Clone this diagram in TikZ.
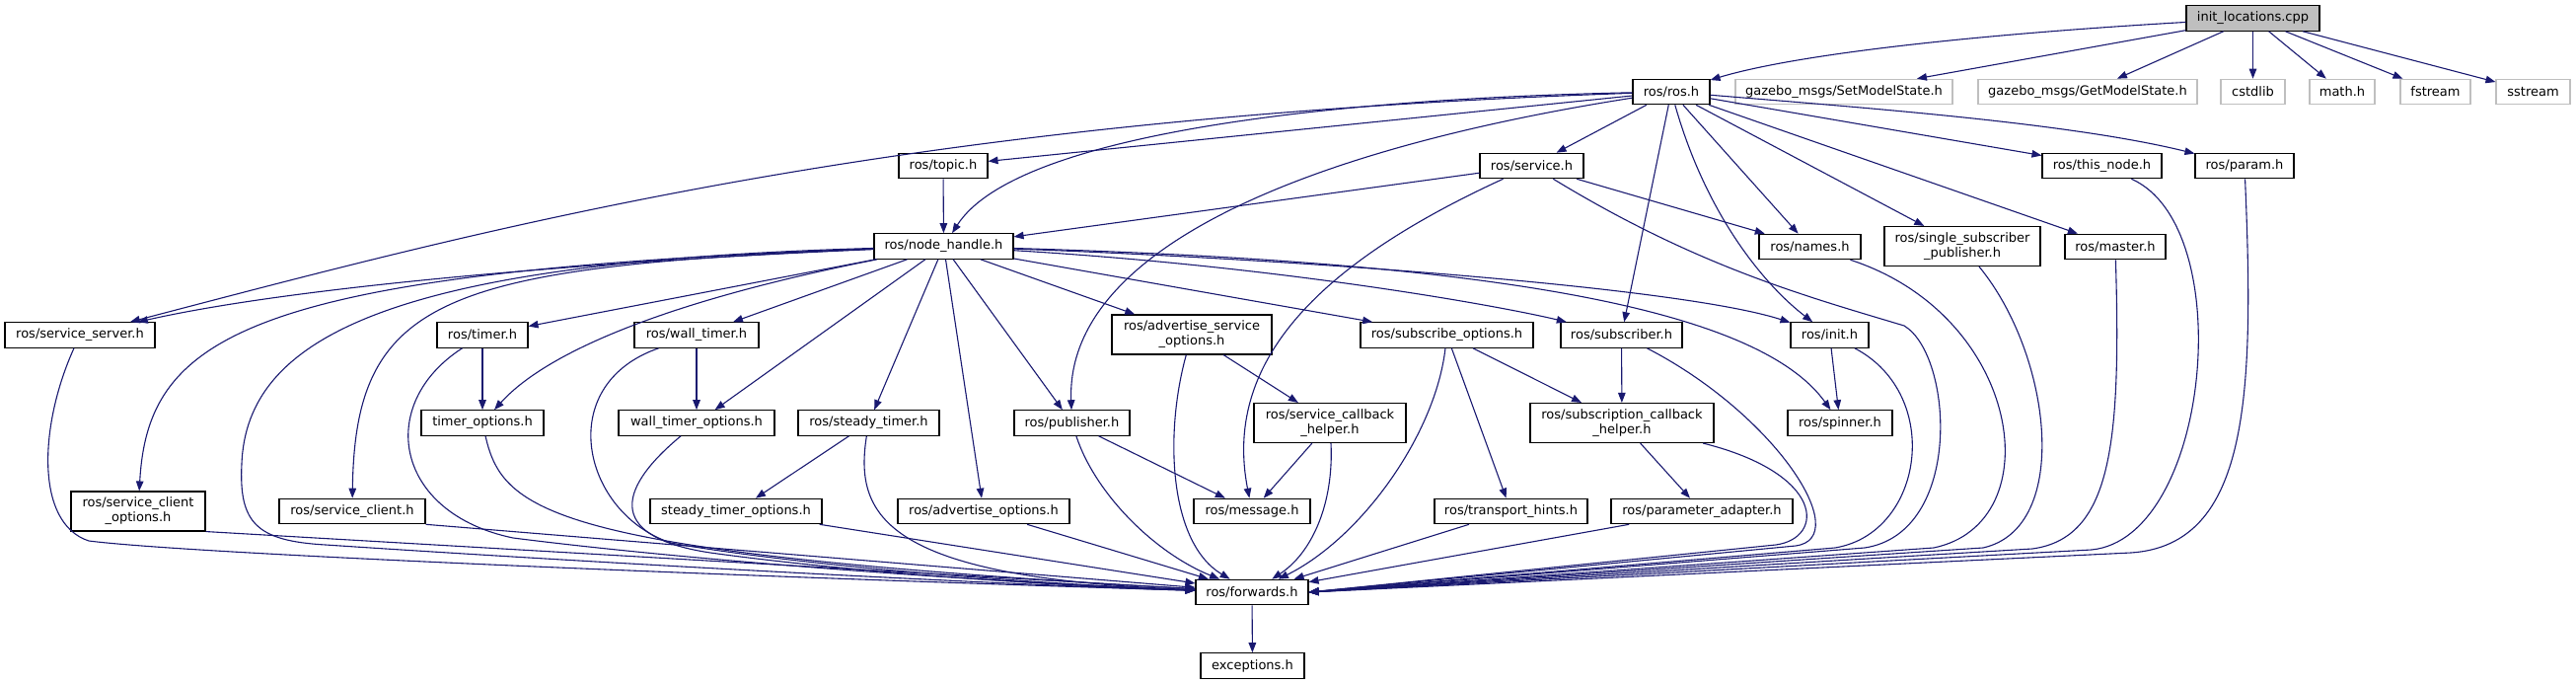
\documentclass[tikz,border=0pt]{standalone}
\usepackage{fontspec}
\setmainfont{DejaVu Sans}
\usetikzlibrary{arrows.meta}
\definecolor{edgeblue}{RGB}{25,25,112}
\definecolor{grey75}{RGB}{191,191,191}
\tikzset{
	hdr/.style={draw=black, fill=white, line width=1.1pt, inner sep=0pt, minimum height=25.5pt, font=\fontsize{13}{15}\selectfont},
	hdrtwo/.style={hdr, align=center, minimum height=40pt},
	sysfile/.style={hdr, draw=grey75},
	rootfile/.style={hdr, fill=grey75},
	dep/.style={edgeblue, line width=1.1pt, -{Triangle[length=10pt,width=7.5pt]}}
}
\begin{document}
\begin{tikzpicture}[x=1pt,y=-1pt]

	% frame
	\useasboundingbox (0,0) rectangle (2611,693);

	% source file
	\node[rootfile, minimum width=135pt] (init) at (2283.5,18.5) {init\_locations.cpp};

	% row 1
	\node[hdr, minimum width=78pt] (rosh) at (1694,93) {ros/ros.h};
	\node[sysfile, minimum width=220pt] (setms) at (1869,93) {gazebo\_msgs/SetModelState.h};
	\node[sysfile, minimum width=222pt] (getms) at (2116,93) {gazebo\_msgs/GetModelState.h};
	\node[sysfile, minimum width=65pt] (cstdlib) at (2283.5,93) {cstdlib};
	\node[sysfile, minimum width=66pt] (mathh) at (2374,93) {math.h};
	\node[sysfile, minimum width=71pt] (fstream) at (2468.5,93) {fstream};
	\node[sysfile, minimum width=75pt] (sstream) at (2567.5,93) {sstream};

	% row 2
	\node[hdr, minimum width=90pt] (topic) at (956,168) {ros/topic.h};
	\node[hdr, minimum width=105pt] (service) at (1552.5,168) {ros/service.h};
	\node[hdr, minimum width=121pt] (thisnode) at (2130.5,168) {ros/this\_node.h};
	\node[hdr, minimum width=100pt] (param) at (2275,168) {ros/param.h};

	% row 3
	\node[hdr, minimum width=141pt] (nodehandle) at (956.5,249.5) {ros/node\_handle.h};
	\node[hdr, minimum width=103pt] (names) at (1834.5,250) {ros/names.h};
	\node[hdrtwo, minimum width=158pt] (singlesub) at (1989,249.5) {ros/single\_subscriber\\\_publisher.h};
	\node[hdr, minimum width=102pt] (master) at (2144,250) {ros/master.h};

	% row 4
	\node[hdr, minimum width=152pt] (srvserver) at (81,339.5) {ros/service\_server.h};
	\node[hdr, minimum width=92pt] (timer) at (489,339.5) {ros/timer.h};
	\node[hdr, minimum width=126pt] (walltimer) at (706,339.5) {ros/wall\_timer.h};
	\node[hdrtwo, minimum width=162pt] (advsrvopt) at (1208,339) {ros/advertise\_service\\\_options.h};
	\node[hdr, minimum width=175pt] (subopt) at (1466.5,339.5) {ros/subscribe\_options.h};
	\node[hdr, minimum width=123pt] (subscriber) at (1643.5,339.5) {ros/subscriber.h};
	\node[hdr, minimum width=79pt] (rosinit) at (1854.5,339.5) {ros/init.h};

	% row 5
	\node[hdr, minimum width=124pt] (timeropt) at (489,428.5) {timer\_options.h};
	\node[hdr, minimum width=158pt] (walltimeropt) at (706,428.5) {wall\_timer\_options.h};
	\node[hdr, minimum width=143pt] (steadytimer) at (880.5,428.5) {ros/steady\_timer.h};
	\node[hdr, minimum width=117pt] (publisher) at (1086.5,428.5) {ros/publisher.h};
	\node[hdrtwo, minimum width=154pt] (srvcb) at (1348,428.5) {ros/service\_callback\\\_helper.h};
	\node[hdrtwo, minimum width=186pt] (subcb) at (1644,428.5) {ros/subscription\_callback\\\_helper.h};
	\node[hdr, minimum width=106pt] (spinner) at (1865,428.5) {ros/spinner.h};

	% row 6
	\node[hdrtwo, minimum width=136pt] (srvclientopt) at (140,518) {ros/service\_client\\\_options.h};
	\node[hdr, minimum width=148pt] (srvclient) at (357,518) {ros/service\_client.h};
	\node[hdr, minimum width=174pt] (steadytimeropt) at (746,518) {steady\_timer\_options.h};
	\node[hdr, minimum width=174pt] (advopt) at (997,518) {ros/advertise\_options.h};
	\node[hdr, minimum width=118pt] (message) at (1269,518) {ros/message.h};
	\node[hdr, minimum width=155pt] (transport) at (1531.5,518) {ros/transport\_hints.h};
	\node[hdr, minimum width=184pt] (paramadapt) at (1725,518) {ros/parameter\_adapter.h};

	% bottom
	\node[hdr, minimum width=114pt] (forwards) at (1269,600) {ros/forwards.h};
	\node[hdr, minimum width=105pt] (exceptions) at (1269.5,674.5) {exceptions.h};

	% from init_locations.cpp
	\draw[dep] (init) .. controls (2000,35) and (1820,55) .. (rosh);
	\draw[dep] (init) -- (setms);
	\draw[dep] (init) -- (getms);
	\draw[dep] (init) -- (cstdlib);
	\draw[dep] (init) -- (mathh);
	\draw[dep] (init) -- (fstream);
	\draw[dep] (init) -- (sstream);

	% from ros/ros.h
	\draw[dep] (rosh) -- (topic);
	\draw[dep] (rosh) .. controls (1350,100) and (1030,135) .. (nodehandle);
	\draw[dep] (rosh) .. controls (900,120) and (500,230) .. (srvserver);
	\draw[dep] (rosh) -- (service);
	\draw[dep] (rosh) .. controls (1330,150) and (1080,250) .. (publisher);
	\draw[dep] (rosh) -- (names);
	\draw[dep] (rosh) -- (singlesub);
	\draw[dep] (rosh) -- (master);
	\draw[dep] (rosh) -- (thisnode);
	\draw[dep] (rosh) .. controls (1900,110) and (2100,125) .. (param);
	\draw[dep] (rosh) .. controls (1730,220) and (1790,290) .. (rosinit);
	\draw[dep] (rosh) -- (subscriber);

	% from ros/topic.h, ros/service.h
	\draw[dep] (topic) -- (nodehandle);
	\draw[dep] (service) -- (nodehandle);
	\draw[dep] (service) -- (names);
	\draw[dep] (service) .. controls (1330,270) and (1240,370) .. (message);
	\draw[dep] (service) .. controls (1720,270) and (1830,300) .. (1930,330) .. controls (1980,360) and (1990,540) .. (1890,555) -- (forwards.east);

	% from ros/node_handle.h
	\draw[dep] (nodehandle) .. controls (600,265) and (300,290) .. (srvserver);
	\draw[dep] (nodehandle) .. controls (250,275) and (150,340) .. (srvclientopt);
	\draw[dep] (nodehandle) .. controls (400,265) and (250,340) .. (245,470) .. controls (242,530) and (260,548) .. (330,552) .. controls (600,570) and (1000,592) .. (forwards);
	\draw[dep] (nodehandle) .. controls (450,270) and (360,300) .. (srvclient);
	\draw[dep] (nodehandle) -- (timer);
	\draw[dep] (nodehandle) .. controls (700,300) and (560,350) .. (timeropt);
	\draw[dep] (nodehandle) -- (walltimer);
	\draw[dep] (nodehandle) -- (walltimeropt);
	\draw[dep] (nodehandle) -- (steadytimer);
	\draw[dep] (nodehandle) -- (advopt);
	\draw[dep] (nodehandle) -- (publisher);
	\draw[dep] (nodehandle) -- (advsrvopt);
	\draw[dep] (nodehandle) -- (subopt);
	\draw[dep] (nodehandle) .. controls (1300,270) and (1520,310) .. (subscriber);
	\draw[dep] (nodehandle) .. controls (1300,262) and (1700,290) .. (rosinit);
	\draw[dep] (nodehandle) .. controls (1500,265) and (1780,310) .. (spinner);

	% left headers
	\draw[dep] (srvserver) .. controls (40,430) and (35,530) .. (90,548) .. controls (200,562) and (800,586) .. (forwards);
	\draw[dep] (srvclientopt.south east) -- (forwards);
	\draw[dep] (srvclient.south east) -- (forwards);
	\draw[dep] (timer) -- (timeropt);
	\draw[dep] (timer) .. controls (380,410) and (400,520) .. (520,545) .. controls (700,568) and (1000,590) .. (forwards);
	\draw[dep] (timeropt) .. controls (510,520) and (560,560) .. (forwards);
	\draw[dep] (walltimer) -- (walltimeropt);
	\draw[dep] (walltimer) .. controls (560,390) and (590,520) .. (680,550) .. controls (800,572) and (1050,592) .. (forwards);
	\draw[dep] (walltimeropt) .. controls (620,500) and (620,545) .. (720,560) .. controls (850,578) and (1050,593) .. (forwards);
	\draw[dep] (steadytimer) -- (steadytimeropt);
	\draw[dep] (steadytimer) .. controls (865,525) and (900,585) .. (forwards);
	\draw[dep] (steadytimeropt) -- (forwards);
	\draw[dep] (advopt) -- (forwards);

	% middle headers
	\draw[dep] (publisher) -- (message);
	\draw[dep] (publisher) .. controls (1110,500) and (1170,560) .. (forwards);
	\draw[dep] (advsrvopt) -- (srvcb);
	\draw[dep] (advsrvopt) .. controls (1180,440) and (1185,550) .. (forwards);
	\draw[dep] (srvcb) -- (message);
	\draw[dep] (srvcb) .. controls (1352,510) and (1330,560) .. (forwards);
	\draw[dep] (subopt) -- (transport);
	\draw[dep] (subopt) -- (subcb);
	\draw[dep] (subopt) .. controls (1455,440) and (1380,545) .. (forwards);
	\draw[dep] (subscriber) -- (subcb);
	\draw[dep] (subscriber) .. controls (1800,420) and (1880,545) .. (1820,553) -- (forwards.east);
	\draw[dep] (transport) -- (forwards);
	\draw[dep] (subcb) -- (paramadapt);
	\draw[dep] (subcb) .. controls (1850,480) and (1850,545) .. (1800,552) -- (forwards.east);
	\draw[dep] (paramadapt) -- (forwards);

	% right headers
	\draw[dep] (rosinit) -- (spinner);
	\draw[dep] (rosinit) .. controls (1970,400) and (1950,540) .. (1860,555) -- (forwards.east);
	\draw[dep] (names) .. controls (2050,320) and (2080,530) .. (1960,555) -- (forwards.east);
	\draw[dep] (singlesub) .. controls (2080,360) and (2100,535) .. (2010,555) -- (forwards.east);
	\draw[dep] (master) .. controls (2150,450) and (2140,545) .. (2060,556) -- (forwards.east);
	\draw[dep] (thisnode) .. controls (2270,230) and (2240,545) .. (2120,557) -- (forwards.east);
	\draw[dep] (param) .. controls (2285,400) and (2280,552) .. (2160,560) -- (forwards.east);

	% bottom
	\draw[dep] (forwards) -- (exceptions);

\end{tikzpicture}
\end{document}
